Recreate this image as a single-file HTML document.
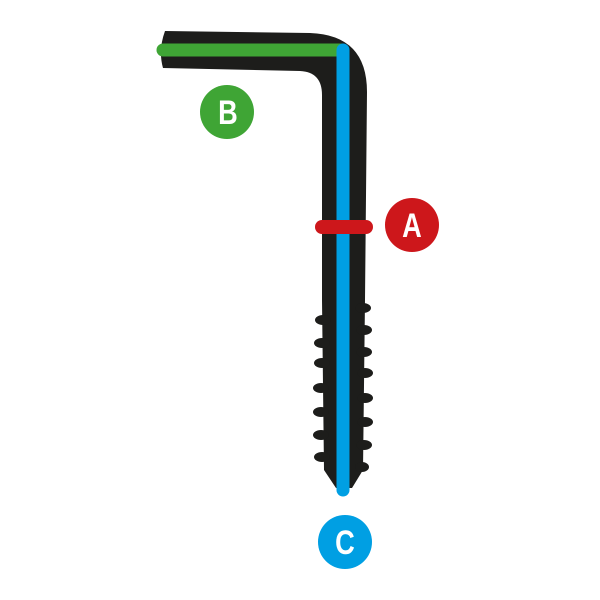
<!DOCTYPE html>
<html><head><style>html,body{margin:0;padding:0;background:#fff}svg{display:block}</style></head>
<body>
<svg width="600" height="600" viewBox="0 0 600 600" xmlns="http://www.w3.org/2000/svg">
<path fill="#1d1d1b" d="M165,31 L310,33 Q367,35 367,92 L365,300 L363,470 L352,488 L336,488 L324,470 L322,300 L322,95 Q322,72 300,71 L163,68 Q158,50 165,31 Z"/>
<g fill="#1d1d1b">
<ellipse cx="363" cy="308" rx="8" ry="5"/><ellipse cx="364" cy="330" rx="8" ry="5"/>
<ellipse cx="364" cy="352" rx="8" ry="5"/><ellipse cx="365" cy="373" rx="8" ry="5"/>
<ellipse cx="365" cy="398" rx="8" ry="5"/><ellipse cx="365" cy="422" rx="8" ry="5"/>
<ellipse cx="364" cy="445" rx="8" ry="5"/><ellipse cx="362" cy="467" rx="7" ry="5"/>
<ellipse cx="323" cy="320" rx="8" ry="5"/><ellipse cx="322" cy="343" rx="8" ry="5"/>
<ellipse cx="322" cy="363" rx="8" ry="5"/><ellipse cx="321" cy="388" rx="8" ry="5"/>
<ellipse cx="321" cy="412" rx="8" ry="5"/><ellipse cx="321" cy="435" rx="8" ry="5"/>
<ellipse cx="322" cy="457" rx="8" ry="5"/>
</g>
<line x1="163" y1="50" x2="340" y2="50" stroke="#3fa535" stroke-width="13" stroke-linecap="round"/>
<line x1="343" y1="50" x2="343" y2="490" stroke="#009fe3" stroke-width="13" stroke-linecap="round"/>
<line x1="322" y1="227" x2="366" y2="227" stroke="#cd171b" stroke-width="14" stroke-linecap="round"/>
<circle cx="227" cy="112" r="27" fill="#3fa535"/>
<circle cx="412" cy="225" r="27" fill="#cd171b"/>
<circle cx="345" cy="542" r="27" fill="#009fe3"/>
<g fill="#fff" font-family="Liberation Sans, sans-serif" font-weight="bold" font-size="34" text-anchor="middle">
<text x="228" y="124" transform="translate(228 124) scale(0.8 1) translate(-228 -124)">B</text>
<text x="412" y="237" transform="translate(412 237) scale(0.8 1) translate(-412 -237)">A</text>
<text x="345" y="554" transform="translate(345 554) scale(0.8 1) translate(-345 -554)">C</text>
</g>
</svg>
</body></html>
